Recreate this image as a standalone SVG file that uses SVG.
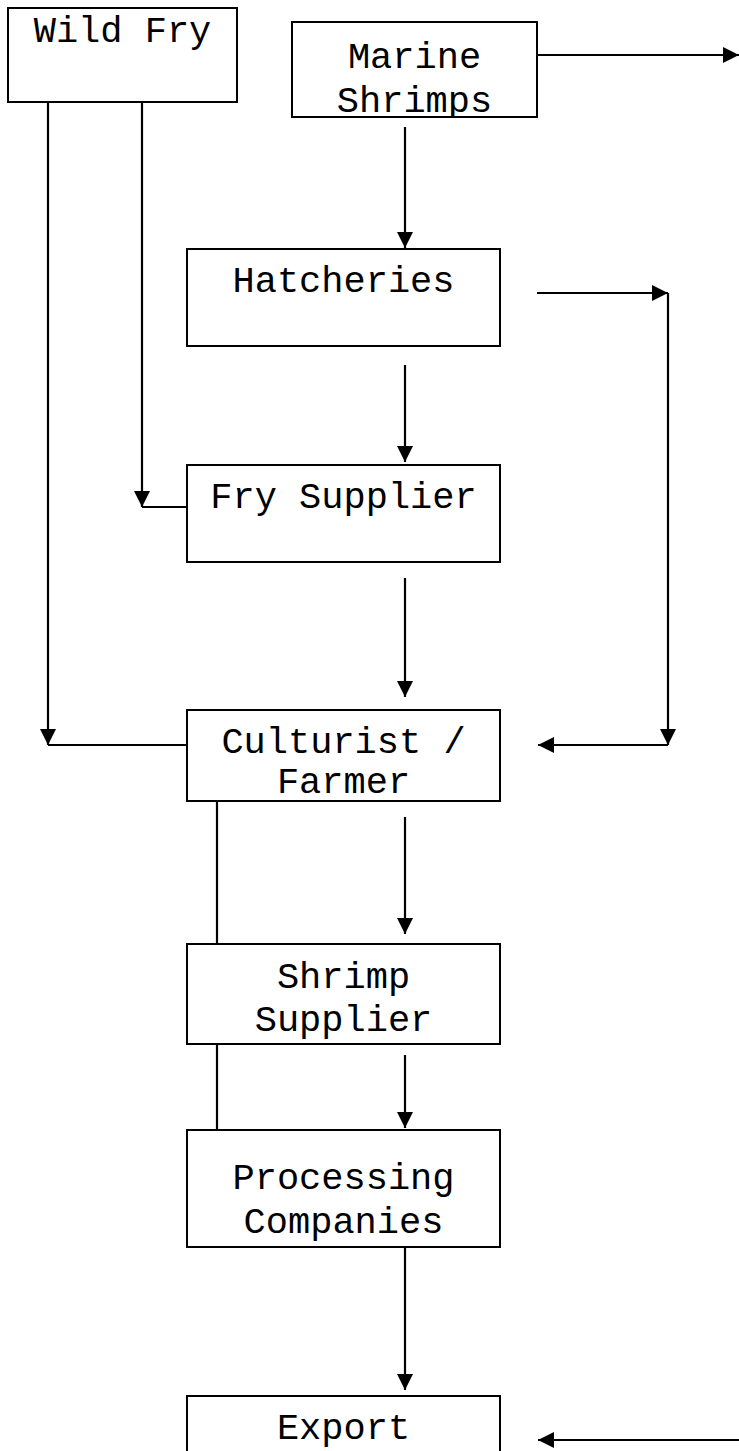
<svg xmlns="http://www.w3.org/2000/svg" width="739" height="1451" viewBox="0 0 739 1451">
<defs>
<style>
.box{fill:#fff;stroke:#000;stroke-width:2}
.lbl{font-family:"Liberation Mono","Courier New",monospace;font-size:37px;fill:#000;text-anchor:middle}
.ln{fill:none;stroke:#000;stroke-width:2.2}
.ar{fill:none;stroke:#000;stroke-width:2.2;marker-end:url(#ah)}
</style>
<marker id="ah" markerUnits="userSpaceOnUse" markerWidth="17" markerHeight="16" refX="16" refY="8" orient="auto">
<path d="M0,0 L16,8 L0,16 z" fill="#000"/>
</marker>
<clipPath id="cm"><rect x="292" y="22" width="245" height="95"/></clipPath>
</defs>
<g id="connectors">
<path class="ar" d="M48,102 V745"/>
<path class="ln" d="M48,745 H187"/>
<path class="ar" d="M142,102 V507"/>
<path class="ln" d="M142,507 H187"/>
<path class="ar" d="M537,55 H739"/>
<path class="ar" d="M405,127 V248"/>
<path class="ar" d="M537,293 H668"/>
<path class="ar" d="M668,293 V745"/>
<path class="ar" d="M668,745 H538"/>
<path class="ar" d="M405,365 V462"/>
<path class="ar" d="M405,578 V697"/>
<path class="ar" d="M405,817 V934"/>
<path class="ln" d="M217,801 V944"/>
<path class="ln" d="M217,1044 V1130"/>
<path class="ar" d="M405,1055 V1128"/>
<path class="ar" d="M405,1247 V1390"/>
<path class="ar" d="M739,1440 H538"/>
</g>
<g id="wild-fry">
<rect class="box" x="8" y="8" width="229" height="94"/>
<text class="lbl" x="122.5" y="42">Wild Fry</text>
</g>
<g id="marine-shrimps">
<rect class="box" x="292" y="22" width="245" height="95"/>
<g clip-path="url(#cm)">
<text class="lbl" x="414.5" y="68">Marine</text>
<text class="lbl" x="414.5" y="112">Shrimps</text>
</g>
</g>
<g id="hatcheries">
<rect class="box" x="187" y="249" width="313" height="97"/>
<text class="lbl" x="343.5" y="292">Hatcheries</text>
</g>
<g id="fry-supplier">
<rect class="box" x="187" y="465" width="313" height="97"/>
<text class="lbl" x="343.5" y="508">Fry Supplier</text>
</g>
<g id="culturist">
<rect class="box" x="187" y="710" width="313" height="91"/>
<text class="lbl" x="343.5" y="753">Culturist /</text>
<text class="lbl" x="343.5" y="793">Farmer</text>
</g>
<g id="shrimp-supplier">
<rect class="box" x="187" y="944" width="313" height="100"/>
<text class="lbl" x="343.5" y="988">Shrimp</text>
<text class="lbl" x="343.5" y="1031">Supplier</text>
</g>
<g id="processing">
<rect class="box" x="187" y="1130" width="313" height="117"/>
<text class="lbl" x="343.5" y="1189">Processing</text>
<text class="lbl" x="343.5" y="1233">Companies</text>
</g>
<g id="export">
<rect class="box" x="187" y="1396" width="313" height="70"/>
<text class="lbl" x="343.5" y="1439">Export</text>
</g>
</svg>
